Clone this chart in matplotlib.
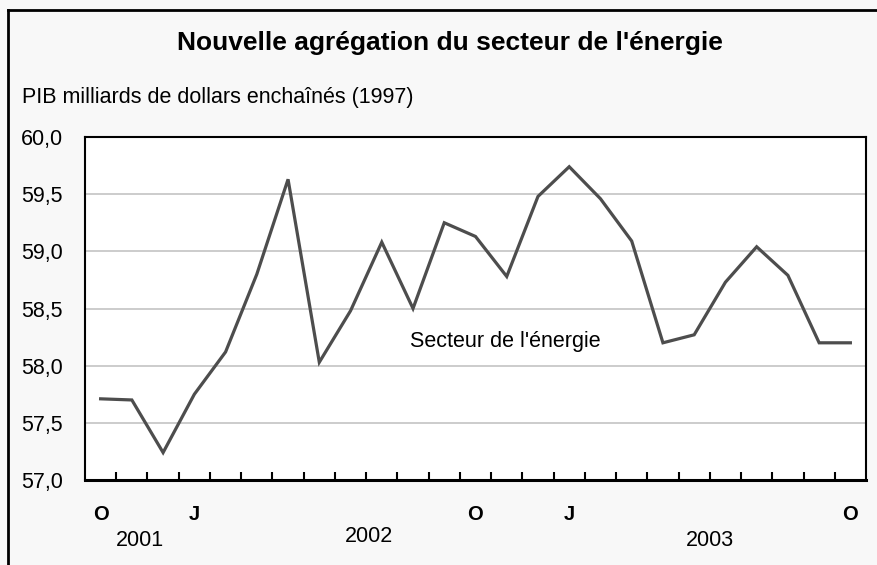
import numpy as np
import matplotlib.pyplot as plt
from matplotlib.lines import Line2D

plt.rcParams['font.family'] = ['Liberation Sans', 'DejaVu Sans']

# ============================================================
# Data : monthly GDP, energy sector, Oct 2001 - Oct 2003
# ============================================================
values = [57.71, 57.70, 57.24, 57.75, 58.12, 58.80, 59.63, 58.03, 58.48,
          59.08, 58.50, 59.25, 59.13, 58.78, 59.48, 59.74, 59.46, 59.09,
          58.20, 58.27, 58.73, 59.04, 58.79, 58.20, 58.20]
month_pos = [0, 3, 12, 15, 24]
month_labels = ["O", "J", "O", "J", "O"]
year_pos = [1.25, 8.6, 19.5]
year_labels = ["2001", "2002", "2003"]
y_ticks = [57.0, 57.5, 58.0, 58.5, 59.0, 59.5, 60.0]

bg = '#f8f8f8'
fig = plt.figure(figsize=(8.78, 5.65), dpi=100, facecolor=bg)
W, H = 878, 565
ax = fig.add_axes([85 / W, 1 - 480 / H, 781 / W, 343 / H])
ax.set_facecolor('white')

x = np.arange(len(values))
ax.plot(x, values, color='#4d4d4d', linewidth=2.3, solid_joinstyle='miter', zorder=3)

ax.set_xlim(-0.5, len(values) - 0.5)
ax.set_ylim(57.0, 60.0)
ax.set_yticks(y_ticks)
ax.set_yticklabels([f"{v:.1f}".replace('.', ',') for v in y_ticks], fontsize=15.5)
ax.yaxis.grid(True, color='#c4c4c4', linewidth=1.2)
ax.set_axisbelow(True)
ax.tick_params(axis='y', length=0, pad=16)

# category axis: marks between months, labels under a few of them
ax.set_xticks(month_pos)
ax.set_xticklabels(month_labels, fontsize=14.5, fontweight='bold')
ax.tick_params(axis='x', length=0, pad=18)
ax.set_xticks(np.arange(0.5, len(values) - 1, 1), minor=True)
ax.tick_params(axis='x', which='minor', direction='in', length=6, width=1.5, color='black')

for s in ax.spines.values():
    s.set_color('black')
    s.set_linewidth(1.5)
ax.spines['bottom'].set_linewidth(2.2)

tr = ax.get_xaxis_transform()
for p, lab in zip(year_pos, year_labels):
    yy = -0.165 if lab == "2002" else -0.175
    ax.text(p, yy, lab, transform=tr, ha='center', va='center', fontsize=15.5)

ax.text(12.95, 58.21, "Secteur de l'énergie", ha='center', va='center', fontsize=15.5)

fig.text(450 / W, 1 - 43 / H, "Nouvelle agrégation du secteur de l'énergie",
         ha='center', va='center', fontsize=19, fontweight='bold')
fig.text(22 / W, 1 - 98 / H, "PIB milliards de dollars enchaînés (1997)",
         ha='left', va='center', fontsize=15.5)

# outer frame (top and left only are visible)
fig.add_artist(Line2D([8 / W, 1], [1 - 10 / H, 1 - 10 / H], transform=fig.transFigure,
                      color='black', linewidth=2))
fig.add_artist(Line2D([8 / W, 8 / W], [0, 1 - 10 / H], transform=fig.transFigure,
                      color='black', linewidth=2))

fig.savefig("out.png", dpi=100, facecolor=bg)
